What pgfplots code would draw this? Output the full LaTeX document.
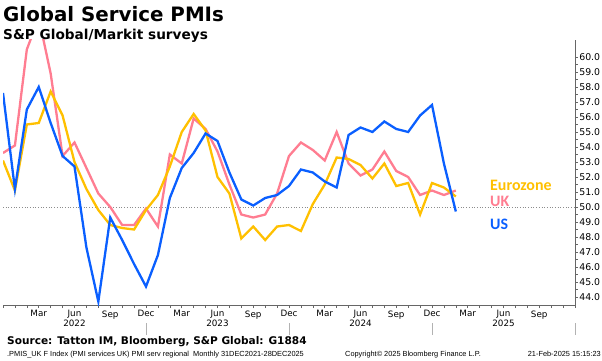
\documentclass[border=0pt]{standalone}
\usepackage{pgfplots}
\pgfplotsset{compat=1.18}
\usepackage{pgfplotstable}
\usepackage{fontspec}
\setmainfont{DejaVu Sans}
\newfontfamily\legfont{Carlito}
\newfontfamily\footfont{Liberation Sans}
\definecolor{usblue}{RGB}{10,95,255}
\definecolor{ukpink}{RGB}{255,125,145}
\definecolor{ezgold}{RGB}{255,192,0}

% m = months since Dec 2021
\pgfplotstableread{
m us uk ez
0 57.6 53.6 53.1
1 51.2 54.1 51.1
2 56.5 60.5 55.5
3 58.0 62.6 55.6
4 55.6 58.9 57.7
5 53.4 53.4 56.1
6 52.7 54.3 53.0
7 47.3 52.6 51.2
8 43.7 50.9 49.8
9 49.3 50.0 48.8
10 47.8 48.8 48.6
11 46.2 48.8 48.5
12 44.7 49.9 49.8
13 46.8 48.7 50.8
14 50.6 53.5 52.7
15 52.6 52.9 55.0
16 53.6 55.9 56.2
17 54.9 55.2 55.1
18 54.4 53.7 52.0
19 52.3 51.5 50.9
20 50.5 49.5 47.9
21 50.1 49.3 48.7
22 50.6 49.5 47.8
23 50.8 50.9 48.7
24 51.4 53.4 48.8
25 52.5 54.3 48.4
26 52.3 53.8 50.2
27 51.7 53.1 51.5
28 51.3 55.0 53.3
29 54.8 52.9 53.2
30 55.3 52.1 52.8
31 55.0 52.5 51.9
32 55.7 53.7 52.9
33 55.2 52.4 51.4
34 55.0 52.0 51.6
35 56.1 50.8 49.5
36 56.8 51.1 51.6
37 52.9 50.8 51.3
38 49.7 51.1 50.7
}\pmidata

\begin{document}
\begin{tikzpicture}[x=1bp,y=1bp]
\useasboundingbox (0,0) rectangle (602,360);
\begin{axis}[
  at={(3bp,55bp)}, anchor=south west,
  scale only axis, width=572bp, height=265bp,
  xmin=0, xmax=48, ymin=43.47, ymax=61.13,
  separate axis lines,
  axis x line=bottom, axis y line=right,
  axis line style={-, black!60},
  tick align=outside,
  major tick length=3bp, minor tick length=3bp,
  tick style={black!60, semithick},
  xtick={3,6,...,45},
  xticklabels={Mar,Jun,Sep,Dec,Mar,Jun,Sep,Dec,Mar,Jun,Sep,Dec,Mar,Jun,Sep},
  minor xtick={0,1,...,48},
  extra x ticks={6,18,30,42},
  extra x tick labels={2022,2023,2024,2025},
  extra x tick style={major tick length=0pt, tick label style={yshift=-12bp}},
  ytick={44,45,...,60},
  minor y tick num=1,
  xticklabel style={font=\fontsize{8.8}{10}\selectfont, yshift=1bp},
  yticklabel style={font=\fontsize{9.4}{10}\selectfont, xshift=-2.2bp, /pgf/number format/.cd, fixed, fixed zerofill, precision=1},
  /pgf/number format/assume math mode=true,
]
\addplot[black!45, dotted, line width=0.7bp] coordinates {(0,50) (48,50)};
\addplot[ukpink, line width=2.3bp] table[x=m,y=uk]{\pmidata};
\addplot[ezgold, line width=2.3bp] table[x=m,y=ez]{\pmidata};
\addplot[usblue, line width=2.3bp] table[x=m,y=us]{\pmidata};
\end{axis}
% year separators
\foreach \xx in {146,289,432,575} {\draw[black!30] (\xx,37) -- (\xx,25);}
% series labels
\node[anchor=west, inner sep=0, text=ezgold, font=\legfont\bfseries\fontsize{16}{16}\selectfont] at (490,175) {Eurozone};
\node[anchor=west, inner sep=0, text=ukpink, font=\legfont\bfseries\fontsize{16}{16}\selectfont] at (490,159) {UK};
\node[anchor=west, inner sep=0, text=usblue, font=\legfont\bfseries\fontsize{16}{16}\selectfont] at (490,136) {US};
% titles
\node[anchor=base west, inner sep=0, font=\bfseries\fontsize{19.9}{20}\selectfont] at (3,338.5) {Global Service PMIs};
\node[anchor=base west, inner sep=0, font=\bfseries\fontsize{13.7}{14}\selectfont] at (3,321) {S\&P Global/Markit surveys};
% source and footer
\node[anchor=base west, inner sep=0, font=\bfseries\fontsize{10.6}{12}\selectfont] at (7,15.5) {Source: Tatton IM, Bloomberg, S\&P Global: G1884};
\node[anchor=base west, inner sep=0, font=\footfont\fontsize{7.4}{8}\selectfont] at (7,4) {.PMIS\_UK F Index (PMI services UK) PMI serv regional\ \ Monthly 31DEC2021-28DEC2025};
\node[anchor=base west, inner sep=0, font=\footfont\fontsize{7.4}{8}\selectfont] at (345,4) {Copyright\textcopyright\ 2025 Bloomberg Finance L.P.};
\node[anchor=base east, inner sep=0, font=\footfont\fontsize{7.4}{8}\selectfont] at (601,4) {21-Feb-2025 15:15:23};
\end{tikzpicture}
\end{document}
